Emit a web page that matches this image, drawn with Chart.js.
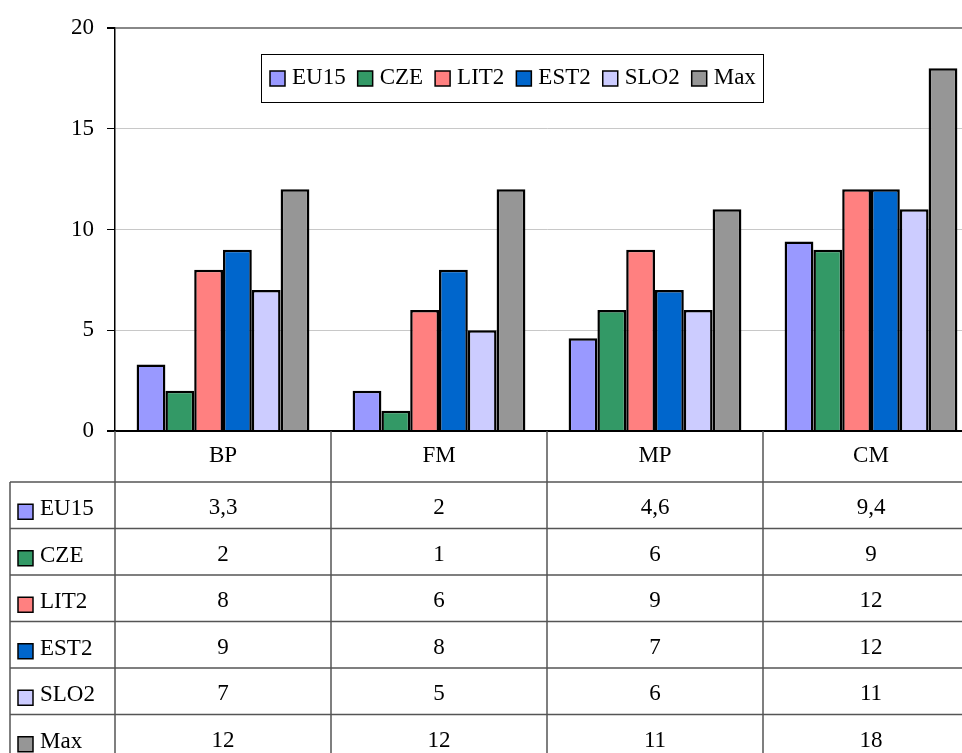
<!DOCTYPE html>
<html>
<head>
<meta charset="utf-8">
<script src="https://cdn.jsdelivr.net/npm/chart.js@4/dist/chart.umd.min.js"></script>
<style>
 html,body{margin:0;padding:0;background:#fff;overflow:hidden}
 #wrap{width:962px;height:753px;overflow:hidden;position:relative}
 #c{position:absolute;left:0;top:0}
</style>
</head>
<body>
<div id="wrap"><canvas id="c" width="980" height="753"></canvas></div>
<script>
const categories=['BP','FM','MP','CM'];
const seriesNames=['EU15','CZE','LIT2','EST2','SLO2','Max'];
const eu15=[3.3,2,4.6,9.4];
const cze=[2,1,6,9];
const lit2=[8,6,9,12];
const est2=[9,8,7,12];
const slo2=[7,5,6,11];
const maxVals=[12,12,11,18];
const yTicks=[0,5,10,15,20];
const colors=['#9999ff','#339966','#ff8080','#0066cc','#ccccff','#969696'];

const FONT='23px "Liberation Serif", "Times New Roman", serif';
const fmt=v=>String(v).replace('.',',');

// legend box + data table drawn under the plot, like the Excel original
const extras={
 id:'extras',
 afterDraw(chart){
  const ctx=chart.ctx, x=chart.scales.x, a=chart.chartArea, ds=chart.data.datasets;
  const cw=(a.right-a.left)/categories.length;
  ctx.save();
  ctx.font=FONT; ctx.fillStyle='#000'; ctx.textBaseline='middle';
  // axis line at 0
  ctx.strokeStyle='#000'; ctx.lineWidth=2;
  ctx.beginPath(); ctx.moveTo(a.left-8,a.bottom); ctx.lineTo(a.right,a.bottom); ctx.stroke();
  // table
  const top0=a.bottom, headH=51, rowH=46.5, left=10;
  ctx.strokeStyle='#555'; ctx.lineWidth=1.5;
  const bottom=top0+headH+rowH*ds.length;
  for(let i=0;i<=categories.length;i++){
   const px=a.left+i*cw;
   ctx.beginPath(); ctx.moveTo(px,top0); ctx.lineTo(px,bottom); ctx.stroke();
  }
  ctx.beginPath(); ctx.moveTo(left,top0+headH); ctx.lineTo(left,bottom); ctx.stroke();
  for(let r=0;r<=ds.length;r++){
   const py=top0+headH+r*rowH;
   ctx.beginPath(); ctx.moveTo(left,py); ctx.lineTo(a.right,py); ctx.stroke();
  }
  ctx.textAlign='center';
  categories.forEach((c,i)=>ctx.fillText(c,x.getPixelForValue(i),top0+25));
  ds.forEach((d,r)=>{
   const cy=top0+headH+r*rowH+rowH/2+3;
   d.data.forEach((v,i)=>ctx.fillText(fmt(v),x.getPixelForValue(i),cy));
   ctx.fillStyle=d.backgroundColor; ctx.fillRect(18,cy-4,15,15);
   ctx.strokeStyle='#000'; ctx.lineWidth=1.5; ctx.strokeRect(18,cy-4,15,15);
   ctx.fillStyle='#000'; ctx.textAlign='left';
   ctx.fillText(d.label,40,cy+1);
   ctx.textAlign='center';
  });
  // legend
  ctx.fillStyle='#fff'; ctx.fillRect(261,54,502,48);
  ctx.strokeStyle='#000'; ctx.lineWidth=1; ctx.strokeRect(261.5,54.5,502,48);
  let lx=270;
  ctx.textAlign='left';
  ds.forEach(d=>{
   ctx.fillStyle=d.backgroundColor; ctx.fillRect(lx,71,15,15);
   ctx.strokeStyle='#000'; ctx.lineWidth=1.5; ctx.strokeRect(lx,71,15,15);
   ctx.fillStyle='#000'; ctx.fillText(d.label,lx+22,78);
   lx+=22+ctx.measureText(d.label).width+12;
  });
  ctx.restore();
 }
};

const values=[eu15,cze,lit2,est2,slo2,maxVals];
new Chart(document.getElementById('c'),{
 type:'bar',
 data:{
  labels:categories,
  datasets:seriesNames.map((n,i)=>({label:n,data:values[i],backgroundColor:colors[i],borderColor:'#000',borderWidth:2.5,categoryPercentage:0.8,barPercentage:1}))
 },
 options:{
  responsive:false,animation:false,
  layout:{padding:{top:28,bottom:322,left:0,right:1}},
  plugins:{legend:{display:false},tooltip:{enabled:false}},
  scales:{
   x:{display:false},
   y:{
    min:0,max:20,
    afterFit:s=>{s.width=115},
    afterBuildTicks:s=>{s.ticks=yTicks.map(v=>({value:v}))},
    border:{color:'#000',width:1.5},
    grid:{
     color:c=>c.tick.value===20?'#888':(c.tick.value===0?'#000':'#c8c8c8'),
     lineWidth:c=>c.tick.value===20?2:1,
     tickColor:'#000',tickLength:8
    },
    ticks:{color:'#000',font:{family:'"Liberation Serif", serif',size:23},padding:13}
   }
  }
 },
 plugins:[extras]
});
</script>
</body>
</html>
